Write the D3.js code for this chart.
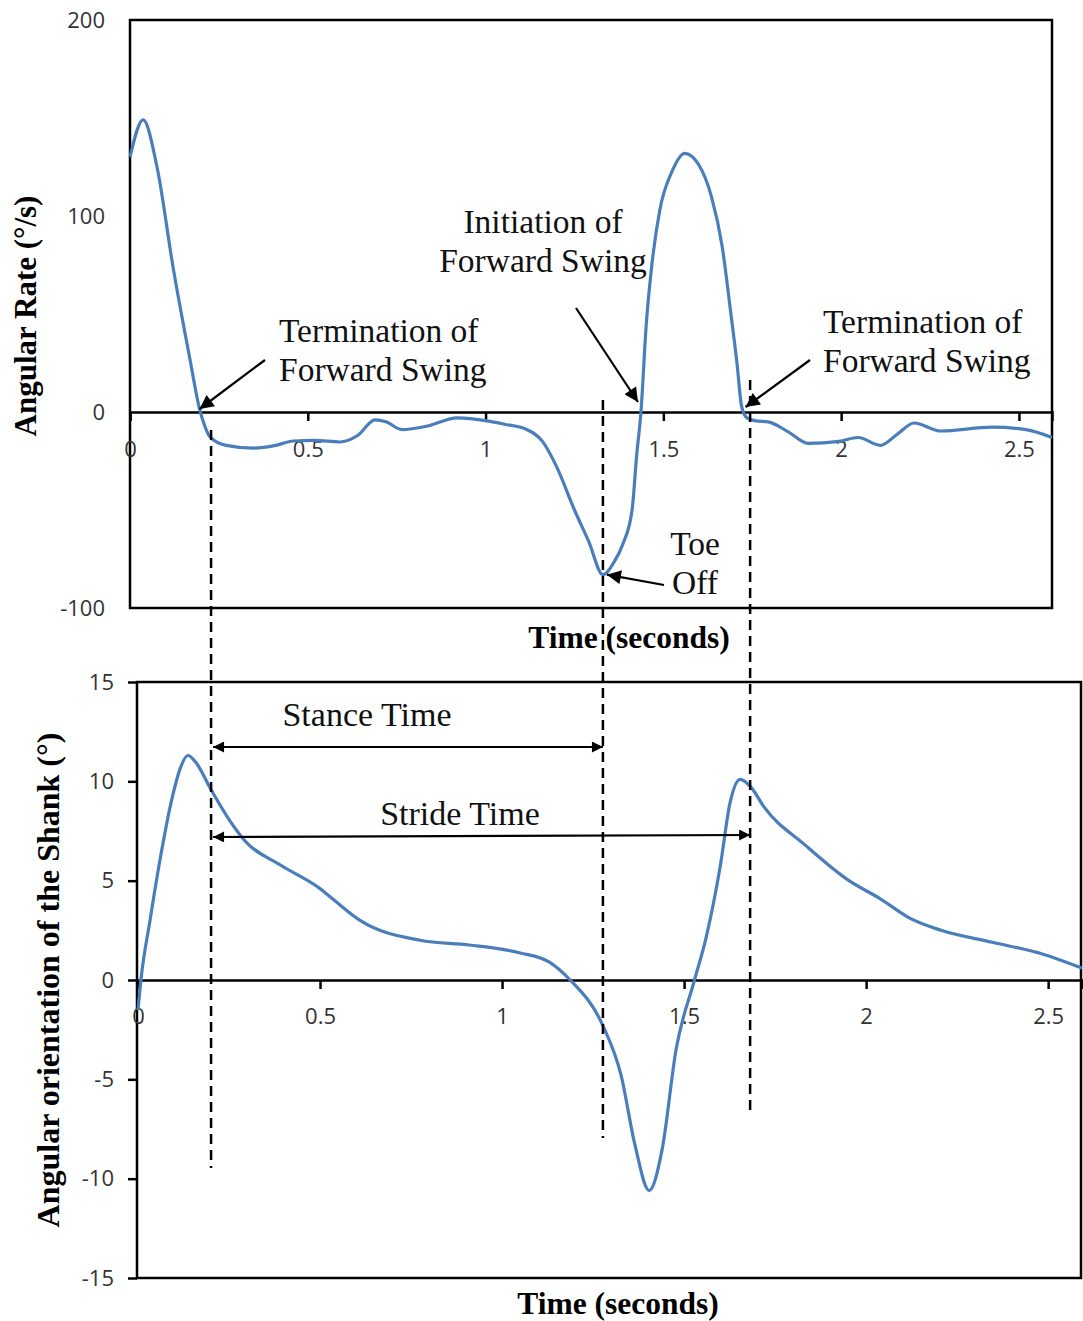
<!DOCTYPE html>
<html>
<head>
<meta charset="utf-8">
<script src="https://cdn.jsdelivr.net/npm/d3@7"></script>
<style>
  html, body { margin: 0; padding: 0; background: #fff; }
  svg { display: block; }
  .tick text { font-family: "Open Sans", "Noto Sans", sans-serif; font-size: 22px; fill: #333; }
  .serif { font-family: "Liberation Serif", "Times New Roman", serif; }
</style>
</head>
<body>
<svg id="chart" width="1083" height="1321"></svg>
<script>
// Shank angular rate (gyroscope) over one gait cycle
const rateTime = [0, 0.037, 0.076, 0.121, 0.169, 0.195, 0.21, 0.225, 0.27, 0.346, 0.41, 0.459, 0.52, 0.59, 0.64, 0.689, 0.72, 0.765, 0.84, 0.92, 1.004, 1.06, 1.11, 1.16, 1.2, 1.25, 1.29, 1.33, 1.36, 1.387, 1.412, 1.425, 1.437, 1.452, 1.467, 1.49, 1.525, 1.56, 1.6, 1.635, 1.665, 1.69, 1.707, 1.72, 1.735, 1.76, 1.795, 1.85, 1.907, 1.994, 2.048, 2.11, 2.16, 2.205, 2.28, 2.425, 2.52, 2.593];
const rateValue = [130, 149, 125, 74, 26.5, 2, -7, -12.7, -17, -18.4, -17, -14.8, -14.5, -15.3, -12, -4, -5, -9, -7, -3, -4.5, -6.5, -8.5, -15, -28, -50, -66, -83, -77, -67, -50, -22, 0, 45, 74, 103, 123, 132, 126, 110, 85, 50, 25, 3, -3, -4.5, -5, -10, -16, -15, -13, -17, -11, -5.6, -9.7, -7.7, -9, -13];

// Shank angular orientation over the same cycle
const angleTime = [0, 0.008, 0.033, 0.06, 0.093, 0.115, 0.137, 0.157, 0.2, 0.253, 0.294, 0.39, 0.5, 0.54, 0.61, 0.775, 0.91, 1.05, 1.13, 1.187, 1.277, 1.327, 1.365, 1.404, 1.44, 1.478, 1.527, 1.56, 1.6, 1.626, 1.654, 1.684, 1.72, 1.832, 1.953, 2.038, 2.121, 2.206, 2.346, 2.486, 2.593];
const angleValue = [-1.5, 0, 3.0, 6.0, 9.1, 10.6, 11.3, 11.0, 9.6, 8.0, 7.0, 5.8, 4.6, 4.0, 3.0, 2.0, 1.76, 1.36, 0.9, 0, -2.3, -4.8, -8.3, -10.6, -8.5, -3.5, -0.1, 2.1, 5.8, 8.9, 10.1, 9.7, 8.7, 6.8, 5.0, 4.1, 3.1, 2.5, 1.9, 1.3, 0.6];

// Axis tick labels
const timeTicks = [0, 0.5, 1, 1.5, 2, 2.5];
const rateTicks = [-100, 0, 100, 200];
const angleTicks = [-15, -10, -5, 0, 5, 10, 15];

// Gait events (seconds)
const heelStrike1 = 0.228;   // start of stance
const toeOff = 1.33;         // end of stance
const heelStrike2 = 1.744;   // end of stride
const toeOffRate = -83;
const swingEnd1 = 0.19, swingStart = 1.437, swingEnd2 = 1.72;

const svg = d3.select("#chart");
const blue = "#4a7ebb";
const plain = d => String(d);   // hyphen-minus, no locale formatting

// ---------- scales ----------
const xTop = d3.scaleLinear().domain([0, 2.593]).range([130, 1052]);
const yTop = d3.scaleLinear().domain([-100, 200]).range([608, 20]);
const xBot = d3.scaleLinear().domain([0, 2.593]).range([138, 1082]);
const yBot = d3.scaleLinear().domain([-15, 15]).range([1278, 682]);

// arrowhead markers
const defs = svg.append("defs");
defs.append("marker")
  .attr("id", "head")
  .attr("viewBox", "0 0 10 10")
  .attr("refX", 10).attr("refY", 5)
  .attr("markerUnits", "userSpaceOnUse")
  .attr("markerWidth", 18).attr("markerHeight", 14)
  .attr("orient", "auto-start-reverse")
  .append("path").attr("d", "M0,0 L10,5 L0,10 Z").attr("fill", "#000");
defs.append("marker")
  .attr("id", "headSmall")
  .attr("viewBox", "0 0 10 10")
  .attr("refX", 10).attr("refY", 5)
  .attr("markerUnits", "userSpaceOnUse")
  .attr("markerWidth", 14).attr("markerHeight", 11)
  .attr("orient", "auto-start-reverse")
  .append("path").attr("d", "M0,0 L10,5 L0,10 Z").attr("fill", "#000");

// ---------- upper panel: angular rate ----------
const ratePanel = svg.append("g");
ratePanel.append("rect")
  .attr("x", xTop(0)).attr("y", yTop(200))
  .attr("width", xTop.range()[1] - xTop(0))
  .attr("height", yTop(-100) - yTop(200))
  .attr("fill", "none").attr("stroke", "#000").attr("stroke-width", 2.5);

const rateYAxis = ratePanel.append("g")
  .attr("transform", `translate(${xTop(0)},0)`)
  .call(d3.axisLeft(yTop).tickValues(rateTicks).tickSize(0).tickPadding(25).tickFormat(plain));
rateYAxis.select(".domain").remove();

const rateXAxis = ratePanel.append("g")
  .attr("transform", `translate(0,${yTop(0)})`)
  .call(d3.axisBottom(xTop).tickValues(timeTicks).tickSize(9).tickPadding(20).tickFormat(plain));
rateXAxis.select(".domain").attr("stroke", "#000").attr("stroke-width", 2.5);
rateXAxis.selectAll(".tick line").attr("stroke", "#000").attr("stroke-width", 2.5);

const rateLine = d3.line()
  .x(d => xTop(d[0])).y(d => yTop(d[1]))
  .curve(d3.curveMonotoneX);
ratePanel.append("path")
  .datum(d3.zip(rateTime, rateValue))
  .attr("d", rateLine)
  .attr("fill", "none").attr("stroke", blue).attr("stroke-width", 3.2)
  .attr("stroke-linejoin", "round");

// ---------- lower panel: angular orientation ----------
const anglePanel = svg.append("g");
anglePanel.append("rect")
  .attr("x", xBot(0) - 1).attr("y", yBot(15))
  .attr("width", xBot.range()[1] - xBot(0))
  .attr("height", yBot(-15) - yBot(15))
  .attr("fill", "none").attr("stroke", "#000").attr("stroke-width", 2.5);

const angleYAxis = anglePanel.append("g")
  .attr("transform", `translate(${xBot(0) - 1},0)`)
  .call(d3.axisLeft(yBot).tickValues(angleTicks).tickSize(9).tickPadding(14).tickFormat(plain));
angleYAxis.select(".domain").remove();
angleYAxis.selectAll(".tick line").attr("stroke", "#000").attr("stroke-width", 2.5);

const angleXAxis = anglePanel.append("g")
  .attr("transform", `translate(0,${yBot(0)})`)
  .call(d3.axisBottom(xBot).tickValues(timeTicks).tickSize(9).tickPadding(19).tickFormat(plain));
angleXAxis.select(".domain").attr("stroke", "#000").attr("stroke-width", 2.5);
angleXAxis.selectAll(".tick line").attr("stroke", "#000").attr("stroke-width", 2.5);

const angleLine = d3.line()
  .x(d => xBot(d[0])).y(d => yBot(d[1]))
  .curve(d3.curveMonotoneX);
anglePanel.append("path")
  .datum(d3.zip(angleTime, angleValue))
  .attr("d", angleLine)
  .attr("fill", "none").attr("stroke", blue).attr("stroke-width", 3.2)
  .attr("stroke-linejoin", "round");

// ---------- axis titles ----------
svg.append("text").attr("class", "serif")
  .attr("transform", `translate(36,${(yTop(200) + yTop(-100)) / 2 + 2}) rotate(-90)`)
  .attr("text-anchor", "middle").attr("font-weight", "bold").attr("font-size", 31)
  .text("Angular Rate (°/s)");
svg.append("text").attr("class", "serif")
  .attr("x", 629).attr("y", 648)
  .attr("text-anchor", "middle").attr("font-weight", "bold").attr("font-size", 31.5)
  .text("Time (seconds)");
svg.append("text").attr("class", "serif")
  .attr("transform", `translate(59,${(yBot(15) + yBot(-15)) / 2}) rotate(-90)`)
  .attr("text-anchor", "middle").attr("font-weight", "bold").attr("font-size", 32)
  .text("Angular orientation of  the Shank (°)");
svg.append("text").attr("class", "serif")
  .attr("x", 618).attr("y", 1314)
  .attr("text-anchor", "middle").attr("font-weight", "bold").attr("font-size", 31.5)
  .text("Time (seconds)");

// ---------- event markers spanning both panels ----------
const dashes = [
  { t: heelStrike1, y0: 430, y1: 1168 },
  { t: toeOff, y0: 400, y1: 1138 },
  { t: heelStrike2, y0: 380, y1: 1116 }
];
svg.append("g").selectAll("line").data(dashes).join("line")
  .attr("x1", d => xTop(d.t)).attr("x2", d => xTop(d.t))
  .attr("y1", d => d.y0).attr("y2", d => d.y1)
  .attr("stroke", "#000").attr("stroke-width", 2.5)
  .attr("stroke-dasharray", "10,6");

// stance / stride spans
const spans = [
  { label: "Stance Time", t0: heelStrike1, t1: toeOff, y: 747, ty: 726, tx: 367 },
  { label: "Stride Time", t0: heelStrike1, t1: heelStrike2, y: 837, ty: 825, tx: 460 }
];
spans.forEach(s => {
  svg.append("line")
    .attr("x1", xTop(s.t0) + 2).attr("x2", xTop(s.t1))
    .attr("y1", s.y).attr("y2", s.y - (s.t1 > 1.7 ? 2 : 0))
    .attr("stroke", "#000").attr("stroke-width", 2.2)
    .attr("marker-start", "url(#headSmall)").attr("marker-end", "url(#headSmall)");
  svg.append("text").attr("class", "serif")
    .attr("x", s.tx).attr("y", s.ty)
    .attr("text-anchor", "middle").attr("font-size", 34).attr("fill", "#111")
    .text(s.label);
});

// ---------- callouts on the angular-rate trace ----------
const callouts = [
  { lines: ["Termination of", "Forward Swing"], anchor: "start", tx: 279, ty: 342,
    from: [265, 360], to: [xTop(swingEnd1) + 2, yTop(0) - 3] },
  { lines: ["Initiation of", "Forward Swing"], anchor: "middle", tx: 543, ty: 233,
    from: [576, 308], to: [xTop(swingStart) - 3, yTop(0) - 10] },
  { lines: ["Termination of", "Forward Swing"], anchor: "start", tx: 823, ty: 333,
    from: [810, 360], to: [xTop(swingEnd2) + 4, yTop(0) - 5] },
  { lines: ["Toe", "Off"], anchor: "middle", tx: 695, ty: 555,
    from: [664, 585], to: [xTop(toeOff) + 4, yTop(toeOffRate)] }
];
callouts.forEach(c => {
  const t = svg.append("text").attr("class", "serif")
    .attr("text-anchor", c.anchor).attr("font-size", 33.5).attr("fill", "#111");
  c.lines.forEach((ln, i) => {
    t.append("tspan").attr("x", c.tx).attr("y", c.ty + i * 39).text(ln);
  });
  svg.append("line")
    .attr("x1", c.from[0]).attr("y1", c.from[1])
    .attr("x2", c.to[0]).attr("y2", c.to[1])
    .attr("stroke", "#000").attr("stroke-width", 2.2)
    .attr("marker-end", "url(#head)");
});
</script>
</body>
</html>
